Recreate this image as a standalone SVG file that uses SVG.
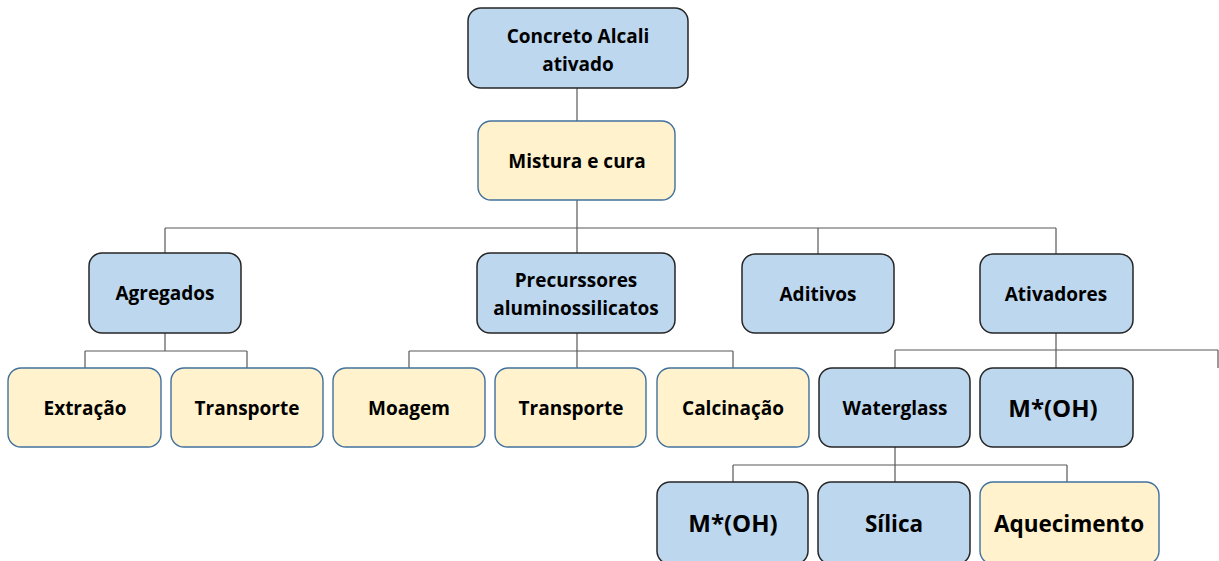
<svg xmlns="http://www.w3.org/2000/svg" width="1219" height="561" viewBox="0 0 1219 561">
<style>
.b rect{fill:#BDD7EE;stroke:#262626;stroke-width:1.5}
.y rect{fill:#FFF2CC;stroke:#41719C;stroke-width:1.4}
text{font-family:"Open Sans","Noto Sans","Liberation Sans",sans-serif;font-weight:bold;fill:#000;text-anchor:middle;font-size:19px}
.l{font-size:22.5px}
.m{font-size:24px}
#conn path{fill:none;stroke:#595959;stroke-width:1.2}
</style>
<rect width="1219" height="561" fill="#fff"/>
<g id="conn">
<path d="M577 88V121"/>
<path d="M577 200V228M165 228H1056M165 228V253M577 228V253M818 228V254M1056 228V254"/>
<path d="M165 333V351M85 351H247M85 351V368M247 351V368"/>
<path d="M577 333V351M409 351H733M409 351V368M577 351V368M733 351V368"/>
<path d="M1056 333V350M895 350H1218M895 350V368M1056 350V368M1218 350V368"/>
<path d="M895 447V465M733 465H1067M733 465V482M895 465V482M1067 465V482"/>
</g>
<g id="n-root" class="b"><rect x="468" y="8" width="220" height="80" rx="13"/><text x="578" y="43">Concreto Alcali</text><text x="578" y="71">ativado</text></g>
<g id="n-mistura" class="y"><rect x="478" y="121" width="197" height="79" rx="13"/><text x="577" y="168">Mistura e cura</text></g>
<g id="n-agregados" class="b"><rect x="89" y="253" width="152" height="80" rx="13"/><text x="165" y="300">Agregados</text></g>
<g id="n-precursores" class="b"><rect x="477" y="253" width="198" height="80" rx="13"/><text x="576" y="287">Precurssores</text><text x="576" y="315">aluminossilicatos</text></g>
<g id="n-aditivos" class="b"><rect x="742" y="254" width="152" height="79" rx="13"/><text x="818" y="301">Aditivos</text></g>
<g id="n-ativadores" class="b"><rect x="980" y="254" width="153" height="79" rx="13"/><text x="1056" y="301">Ativadores</text></g>
<g id="n-extracao" class="y"><rect x="8" y="368" width="153" height="79" rx="13"/><text x="85" y="415">Extração</text></g>
<g id="n-transporte1" class="y"><rect x="171" y="368" width="152" height="79" rx="13"/><text x="247" y="415">Transporte</text></g>
<g id="n-moagem" class="y"><rect x="333" y="368" width="152" height="79" rx="13"/><text x="409" y="415">Moagem</text></g>
<g id="n-transporte2" class="y"><rect x="495" y="368" width="151" height="79" rx="13"/><text x="571" y="415">Transporte</text></g>
<g id="n-calcinacao" class="y"><rect x="657" y="368" width="152" height="79" rx="13"/><text x="733" y="415">Calcinação</text></g>
<g id="n-waterglass" class="b"><rect x="819" y="368" width="151" height="79" rx="13"/><text x="895" y="415">Waterglass</text></g>
<g id="n-moh1" class="b"><rect x="980" y="368" width="153" height="79" rx="13"/><text class="m" x="1053" y="417">M*(OH)</text></g>
<g id="n-moh2" class="b"><rect x="657" y="482" width="151" height="82" rx="13"/><text class="m" x="733" y="532">M*(OH)</text></g>
<g id="n-silica" class="b"><rect x="818" y="482" width="152" height="82" rx="13"/><text class="l" x="894" y="532">Sílica</text></g>
<g id="n-aquecimento" class="y"><rect x="980" y="482" width="179" height="82" rx="13"/><text class="l" x="1069" y="532">Aquecimento</text></g>
</svg>
